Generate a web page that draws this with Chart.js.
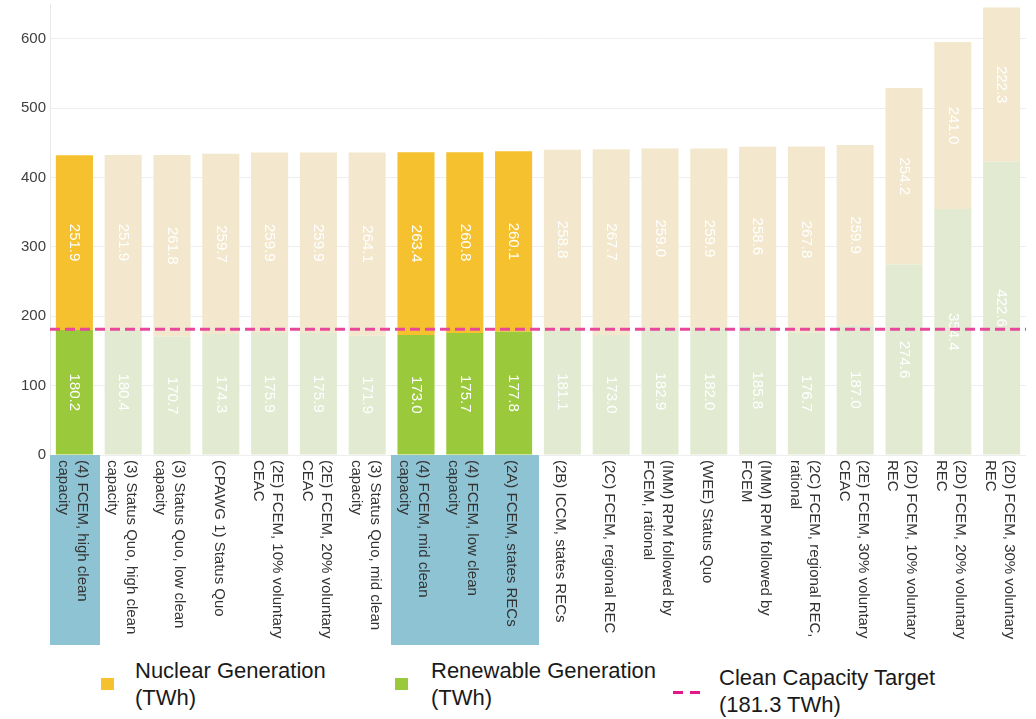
<!DOCTYPE html>
<html>
<head>
<meta charset="utf-8">
<script src="https://cdn.jsdelivr.net/npm/chart.js@4.4.1/dist/chart.umd.min.js"></script>
<style>
  body { margin: 0; background: #fff; }
  #wrap { position: relative; width: 1036px; height: 719px; font-family: "Liberation Sans", Arial, sans-serif; color: #1a1a1a; }
  #chart { position: absolute; left: 0; top: 0; }
  .lg-text { position: absolute; font-size: 22px; line-height: 27px; white-space: nowrap; }
  .lg-box { position: absolute; width: 13px; height: 12px; }
  .lg-dash { position: absolute; width: 10px; height: 3px; background: #e6158c; }
</style>
</head>
<body>
<div id="wrap">
  <canvas id="chart" width="1036" height="650"></canvas>

  <div class="lg-box" style="left:101px;top:678px;background:#f5c12e"></div>
  <div class="lg-text" style="left:135px;top:657px">Nuclear Generation<br>(TWh)</div>

  <div class="lg-box" style="left:395px;top:678px;background:#9aca3c"></div>
  <div class="lg-text" style="left:431px;top:657px">Renewable Generation<br>(TWh)</div>

  <div class="lg-dash" style="left:673px;top:691px"></div>
  <div class="lg-dash" style="left:690px;top:691px"></div>
  <div class="lg-text" style="left:719px;top:664px">Clean Capacity Target<br>(181.3 TWh)</div>
</div>

<script>
// Scenario names, one entry per bar (each entry holds the label lines)
const scenarios = [
  ['(4) FCEM, high clean', 'capacity'],
  ['(3) Status Quo, high clean', 'capacity'],
  ['(3) Status Quo, low clean', 'capacity'],
  ['(CPAWG 1) Status Quo'],
  ['(2E) FCEM, 10% voluntary', 'CEAC'],
  ['(2E) FCEM, 20% voluntary', 'CEAC'],
  ['(3) Status Quo, mid clean', 'capacity'],
  ['(4) FCEM, mid clean', 'capacity'],
  ['(4) FCEM, low clean', 'capacity'],
  ['(2A) FCEM, states RECs'],
  ['(2B) ICCM, states RECs'],
  ['(2C) FCEM, regional REC'],
  ['(IMM) RPM followed by', 'FCEM, rational'],
  ['(WEE) Status Quo'],
  ['(IMM) RPM followed by', 'FCEM'],
  ['(2C) FCEM, regional REC,', 'rational'],
  ['(2E) FCEM, 30% voluntary', 'CEAC'],
  ['(2D) FCEM, 10% voluntary', 'REC'],
  ['(2D) FCEM, 20% voluntary', 'REC'],
  ['(2D) FCEM, 30% voluntary', 'REC']
];

// Generation in TWh
const renewableGen = [180.2, 180.4, 170.7, 174.3, 175.9, 175.9, 171.9, 173.0, 175.7, 177.8,
                      181.1, 173.0, 182.9, 182.0, 185.8, 176.7, 187.0, 274.6, 354.4, 422.6];
const nuclearGen   = [251.9, 251.9, 261.8, 259.7, 259.9, 259.9, 264.1, 263.4, 260.8, 260.1,
                      258.8, 267.7, 259.0, 259.9, 258.6, 267.8, 259.9, 254.2, 241.0, 222.3];

// Scenarios shown in full colour, the rest are greyed out
const highlighted = [true, false, false, false, false, false, false, true, true, true,
                     false, false, false, false, false, false, false, false, false, false];

const cleanTarget = 181.3;
const yTicks = [0, 100, 200, 300, 400, 500, 600];

const FONT = '"Liberation Sans", Arial, sans-serif';

const nuclearColors = highlighted.map(h => h ? '#f5c12e' : '#f3e8cd');
const renewableColors = highlighted.map(h => h ? '#9aca3c' : '#e2ebd2');

const extras = {
  id: 'extras',
  afterDatasetsDraw(chart) {
    const ctx = chart.ctx;
    const area = chart.chartArea;
    const y = chart.scales.y;

    // value labels inside each segment, rotated
    chart.data.datasets.forEach((ds, di) => {
      const meta = chart.getDatasetMeta(di);
      meta.data.forEach((bar, i) => {
        const mid = (bar.y + bar.base) / 2;
        ctx.save();
        ctx.translate(bar.x, mid);
        ctx.rotate(Math.PI / 2);
        ctx.fillStyle = '#ffffff';
        ctx.font = '15px ' + FONT;
        ctx.textAlign = 'center';
        ctx.textBaseline = 'middle';
        ctx.fillText(ds.data[i].toFixed(1), 0, 0);
        ctx.restore();
      });
    });

    // clean capacity target line
    const ty = y.getPixelForValue(cleanTarget);
    ctx.save();
    ctx.strokeStyle = '#e8489a';
    ctx.lineWidth = 3;
    ctx.setLineDash([10, 5]);
    ctx.beginPath();
    ctx.moveTo(area.left, ty);
    ctx.lineTo(area.right, ty);
    ctx.stroke();
    ctx.restore();
  },
  afterDraw(chart) {
    const ctx = chart.ctx;
    const area = chart.chartArea;
    const x = chart.scales.x;
    const band = x.getPixelForValue(1) - x.getPixelForValue(0);

    // highlight strip behind the selected scenario names
    ctx.save();
    ctx.fillStyle = '#8ec3d3';
    highlighted.forEach((h, i) => {
      if (!h) return;
      const cx = x.getPixelForValue(i);
      ctx.fillRect(Math.floor(cx - band / 2), area.bottom, Math.ceil(band) + 1, 190);
    });
    ctx.restore();

    // category names, rotated clockwise
    ctx.save();
    ctx.fillStyle = '#333333';
    ctx.font = '15px ' + FONT;
    ctx.textAlign = 'left';
    ctx.textBaseline = 'middle';
    const lh = 19;
    scenarios.forEach((lines, i) => {
      const cx = x.getPixelForValue(i) - 2;
      ctx.save();
      ctx.translate(cx, area.bottom + 5);
      ctx.rotate(Math.PI / 2);
      lines.forEach((line, li) => {
        ctx.fillText(line, 0, (li - (lines.length - 1) / 2) * lh);
      });
      ctx.restore();
    });
    ctx.restore();
  }
};

new Chart(document.getElementById('chart'), {
  type: 'bar',
  data: {
    labels: scenarios.map(s => s.join(' ')),
    datasets: [{
      label: 'Renewable Generation (TWh)',
      data: renewableGen,
      backgroundColor: renewableColors
    }, {
      label: 'Nuclear Generation (TWh)',
      data: nuclearGen,
      backgroundColor: nuclearColors
    }]
  },
  options: {
    responsive: false,
    animation: false,
    devicePixelRatio: 1,
    datasets: { bar: { barPercentage: 0.76, categoryPercentage: 1.0 } },
    layout: { padding: { left: 20, right: 10, top: 4, bottom: 195 } },
    plugins: { legend: { display: false }, tooltip: { enabled: false } },
    scales: {
      x: { stacked: true, display: false },
      y: {
        stacked: true,
        min: 0,
        max: 650,
        afterBuildTicks: s => { s.ticks = yTicks.map(v => ({ value: v })); },
        afterFit: s => { s.width = 30; s.paddingTop = 0; s.paddingBottom = 0; },
        ticks: { font: { family: FONT, size: 15 }, color: '#404040', padding: 4 },
        grid: { color: '#eeeeee', drawTicks: false },
        border: { color: '#e8e8e8' }
      }
    }
  },
  plugins: [extras]
});
</script>
</body>
</html>
